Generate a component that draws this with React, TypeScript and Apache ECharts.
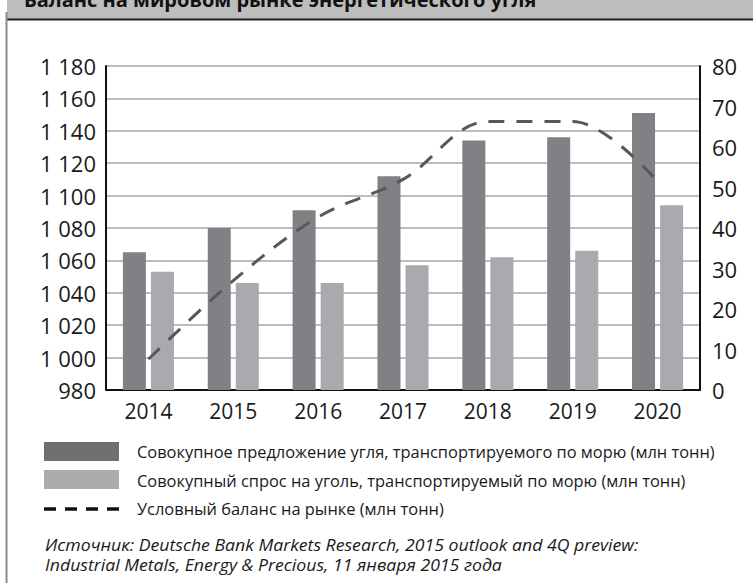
import React, { useEffect, useRef } from "react";
import * as echarts from "echarts";

const title = "Баланс на мировом рынке энергетического угля";
const years = ["2014", "2015", "2016", "2017", "2018", "2019", "2020"];
const supply = [1065, 1080, 1091, 1112, 1134, 1136, 1151];
const demand = [1053, 1046, 1046, 1057, 1062, 1066, 1094];
const balance = [7.6, 27, 42.7, 52, 66.3, 66.3, 51.5];
const legendNames = [
  "Совокупное предложение угля, транспортируемого по морю (млн тонн)",
  "Совокупный спрос на уголь, транспортируемый по морю (млн тонн)",
  "Условный баланс на рынке (млн тонн)",
];
const sourceLines = [
  "Источник: Deutsche Bank Markets Research, 2015 outlook and 4Q preview:",
  "Industrial Metals, Energy & Precious, 11 января 2015 года",
];

const FONT = "'Open Sans', 'Noto Sans', sans-serif";
const DARK = "#808185";
const LIGHT = "#a9aaad";
const LINE = "#58585a";

function fmt(v: number) {
  if (v >= 1000) {
    return Math.floor(v / 1000) + " " + String(v % 1000).padStart(3, "0");
  }
  return String(v);
}

export default function App() {
  const ref = useRef<HTMLDivElement>(null);
  useEffect(() => {
    document.body.style.margin = "0";
    const chart = echarts.init(ref.current!, null, { renderer: "svg" });
    const legendY = [451, 480, 508];
    chart.setOption({
      animation: false,
      backgroundColor: "#ffffff",
      textStyle: { fontFamily: FONT },
      grid: { left: 106, right: 53, top: 66, height: 324 },
      xAxis: {
        type: "category",
        data: years,
        axisLine: { lineStyle: { color: "#111", width: 2 } },
        axisTick: { inside: true, length: 7, lineStyle: { color: "#111", width: 2 } },
        axisLabel: { color: "#1a1a1a", fontSize: 21, margin: 10, fontFamily: FONT },
      },
      yAxis: [
        {
          type: "value",
          min: 980,
          max: 1180,
          interval: 20,
          axisLine: { show: true, lineStyle: { color: "#111", width: 2 } },
          axisTick: { show: false },
          axisLabel: { color: "#1a1a1a", fontSize: 22, margin: 10, formatter: fmt, fontFamily: FONT },
          splitLine: { lineStyle: { color: "#a6a6a6", width: 1.5 } },
        },
        {
          type: "value",
          min: 0,
          max: 80,
          interval: 10,
          position: "right",
          axisLine: { show: true, lineStyle: { color: "#111", width: 2 } },
          axisTick: { show: false },
          axisLabel: { color: "#1a1a1a", fontSize: 22, margin: 12, fontFamily: FONT },
          splitLine: { show: false },
        },
      ],
      series: [
        {
          name: legendNames[0],
          type: "bar",
          data: supply,
          barWidth: 23,
          barGap: "22%",
          itemStyle: { color: DARK },
        },
        {
          name: legendNames[1],
          type: "bar",
          data: demand,
          barWidth: 23,
          itemStyle: { color: LIGHT },
        },
        {
          name: legendNames[2],
          type: "line",
          yAxisIndex: 1,
          data: balance,
          smooth: 0.35,
          symbol: "none",
          lineStyle: { color: LINE, width: 3, type: [16, 12] },
          z: 5,
        },
      ],
      graphic: [
        { type: "rect", silent: true, shape: { x: 7, y: 0, width: 746, height: 19 }, style: { fill: "#bdbdbd" } },
        { type: "line", silent: true, shape: { x1: 7, y1: 19.5, x2: 753, y2: 19.5 }, style: { stroke: "#1e1e1e", lineWidth: 2 } },
        { type: "line", silent: true, shape: { x1: 6.5, y1: 12, x2: 6.5, y2: 583 }, style: { stroke: "#8c8c8c", lineWidth: 2 } },
        {
          type: "text",
          silent: true,
          x: 24,
          y: 9,
          style: {
            text: title,
            fill: "#111",
            fontSize: 20,
            fontWeight: "bold",
            fontFamily: FONT,
            textAlign: "left",
            textVerticalAlign: "bottom",
          },
        },
        { type: "rect", silent: true, shape: { x: 44, y: 442, width: 75, height: 19 }, style: { fill: "#707070" } },
        { type: "rect", silent: true, shape: { x: 44, y: 470, width: 75, height: 19 }, style: { fill: "#ababab" } },
        {
          type: "line",
          silent: true,
          shape: { x1: 44, y1: legendY[2] + 1, x2: 119, y2: legendY[2] + 1 },
          style: { stroke: "#111", lineWidth: 3.5, lineDash: [12, 9] },
        },
        ...legendNames.map((t, i) => ({
          type: "text",
          silent: true,
          x: 137,
          y: legendY[i],
          style: {
            text: t,
            fill: "#1a1a1a",
            fontSize: 16.4,
            fontFamily: FONT,
            textAlign: "left",
            textVerticalAlign: "middle",
          },
        })),
        ...sourceLines.map((t, i) => ({
          type: "text",
          silent: true,
          x: 45,
          y: 545 + i * 19.5,
          scaleX: 1.14,
          style: {
            text: t,
            fill: "#1a1a1a",
            fontSize: 15.5,
            fontStyle: "italic",
            fontFamily: FONT,
            textAlign: "left",
            textVerticalAlign: "middle",
          },
        })),
      ],
    });
    return () => chart.dispose();
  }, []);
  return <div ref={ref} style={{ width: 753, height: 583 }} />;
}
